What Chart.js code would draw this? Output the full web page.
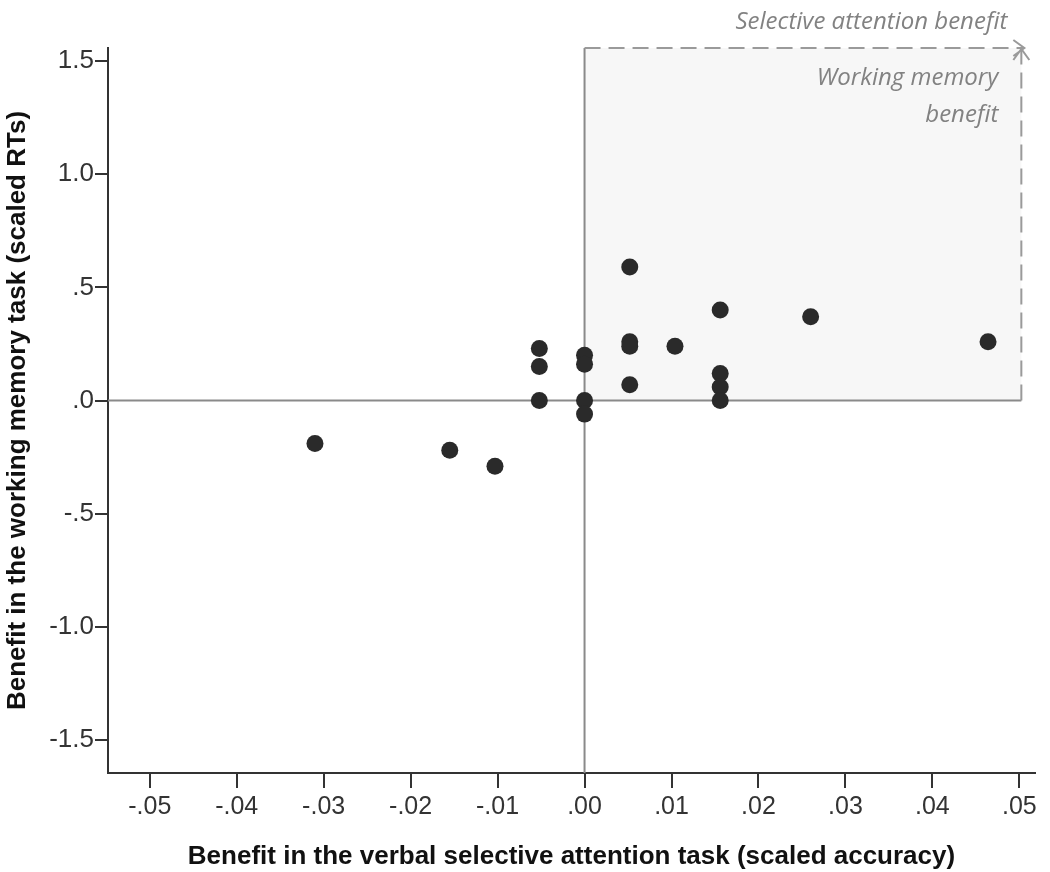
<!DOCTYPE html>
<html>
<head>
<meta charset="utf-8">
<script src="https://cdn.jsdelivr.net/npm/chart.js@4.4.1/dist/chart.umd.min.js"></script>
<style>
  html, body { margin: 0; padding: 0; background: #fff; }
  #wrap { width: 1050px; height: 872px; }
</style>
</head>
<body>
<div id="wrap"><canvas id="chart" width="1050" height="872"></canvas></div>
<script>
// values
const xValues = [-0.0310, -0.0155, -0.0103, -0.0052, -0.0052, -0.0052, 0.0000, 0.0000, 0.0000, 0.0000,
  0.0052, 0.0052, 0.0052, 0.0052, 0.0104, 0.0156, 0.0156, 0.0156, 0.0156, 0.0260, 0.0464]
const yValues = [-0.19, -0.22, -0.29, 0.23, 0.15, 0.00, 0.20, 0.16, 0.00, -0.06,
  0.59, 0.26, 0.24, 0.07, 0.24, 0.40, 0.12, 0.06, 0.00, 0.37, 0.26]

const xTicks = [-0.05, -0.04, -0.03, -0.02, -0.01, 0, 0.01, 0.02, 0.03, 0.04, 0.05]
const yTicks = [-1.5, -1.0, -0.5, 0, 0.5, 1.0, 1.5]

// shaded "benefit" quadrant
const boxX = [0, 0.05]
const boxY = [0, 1.558]

const xTitle = "Benefit in the verbal selective attention task (scaled accuracy)"
const yTitle = "Benefit in the working memory task (scaled RTs)"
const noteTop = "Selective attention benefit"
const noteRight = ["Working memory", "benefit"]

const points = xValues.map((x, i) => ({ x, y: yValues[i] }))

const FONT = "'Liberation Sans', Arial, sans-serif"

// SPSS style labels: ".5", "-.05"
const spssFmt = (v, digits) => {
  const s = Math.abs(v) < 1e-9 ? (0).toFixed(digits) : v.toFixed(digits)
  return s.replace(/^0\./, ".").replace(/^-0\./, "-.")
}

const quadrantPlugin = {
  id: "quadrant",
  beforeDatasetsDraw(chart) {
    const { ctx, chartArea, scales: { x, y } } = chart
    const x0 = x.getPixelForValue(boxX[0])
    const x1 = x.getPixelForValue(boxX[1]) + 2
    const y0 = y.getPixelForValue(boxY[0])
    const y1 = y.getPixelForValue(boxY[1])

    ctx.save()
    ctx.fillStyle = "#f7f7f7"
    ctx.fillRect(x0, y1, x1 - x0, y0 - y1)

    // zero reference lines
    ctx.strokeStyle = "#8a8a8a"
    ctx.lineWidth = 2
    ctx.beginPath()
    ctx.moveTo(chartArea.left, y0)
    ctx.lineTo(x1, y0)
    ctx.moveTo(x0, y1)
    ctx.lineTo(x0, chartArea.bottom)
    ctx.stroke()

    // dashed arrows
    ctx.strokeStyle = "#9a9a9a"
    ctx.setLineDash([16, 8])
    ctx.beginPath()
    ctx.moveTo(x0, y1)
    ctx.lineTo(x1 + 2, y1)
    ctx.moveTo(x1, y0)
    ctx.lineTo(x1, y1 + 2)
    ctx.stroke()
    ctx.setLineDash([])
    ctx.beginPath()
    ctx.moveTo(x1 - 8, y1 - 8)
    ctx.lineTo(x1 + 3, y1)
    ctx.lineTo(x1 - 8, y1 + 8)
    ctx.moveTo(x1 - 8, y1 + 12)
    ctx.lineTo(x1, y1 + 1)
    ctx.lineTo(x1 + 8, y1 + 12)
    ctx.stroke()

    // notes
    ctx.fillStyle = "#828282"
    ctx.font = "italic 24px 'Open Sans', sans-serif"
    ctx.textAlign = "right"
    ctx.textBaseline = "middle"
    ctx.fillText(noteTop, x1 - 14, y1 - 26)
    ctx.fillText(noteRight[0], x1 - 23, y1 + 30)
    ctx.fillText(noteRight[1], x1 - 23, y1 + 67)
    ctx.restore()
  }
}

new Chart(document.getElementById("chart"), {
  type: "scatter",
  data: {
    datasets: [{
      data: points,
      backgroundColor: "#2a2a2a",
      borderWidth: 0,
      pointRadius: 8.5,
    }],
  },
  options: {
    responsive: false,
    animation: false,
    layout: { padding: { left: 0, top: 48, right: 15, bottom: 0 } },
    plugins: { legend: { display: false }, tooltip: { enabled: false } },
    scales: {
      x: {
        type: "linear",
        min: -0.0548,
        max: 0.0518,
        afterBuildTicks: (axis) => { axis.ticks = xTicks.map((v) => ({ value: v })) },
        afterFit: (axis) => { axis.height = 99 },
        border: { display: true, color: "#333", width: 2 },
        grid: { drawOnChartArea: false, drawTicks: true, tickLength: 15, tickColor: "#333", lineWidth: 2 },
        ticks: {
          color: "#333",
          font: { family: FONT, size: 25 },
          padding: 4,
          maxRotation: 0,
          autoSkip: false,
          callback: (v) => spssFmt(v, 2),
        },
        title: {
          display: true,
          text: xTitle,
          color: "#111",
          font: { family: FONT, size: 26, weight: "bold" },
          padding: { top: 4, bottom: 0 },
        },
      },
      y: {
        type: "linear",
        min: -1.646,
        max: 1.558,
        afterBuildTicks: (axis) => { axis.ticks = yTicks.map((v) => ({ value: v })) },
        afterFit: (axis) => { axis.width = 108 },
        border: { display: true, color: "#333", width: 2 },
        grid: { drawOnChartArea: false, drawTicks: true, tickLength: 13, tickColor: "#333", lineWidth: 2 },
        ticks: {
          color: "#333",
          font: { family: FONT, size: 26 },
          padding: 1,
          callback: (v) => spssFmt(v, 1),
        },
        title: {
          display: true,
          text: yTitle,
          color: "#111",
          font: { family: FONT, size: 26, weight: "bold" },
          padding: { top: 2, bottom: 0 },
        },
      },
    },
  },
  plugins: [quadrantPlugin],
})
</script>
</body>
</html>
